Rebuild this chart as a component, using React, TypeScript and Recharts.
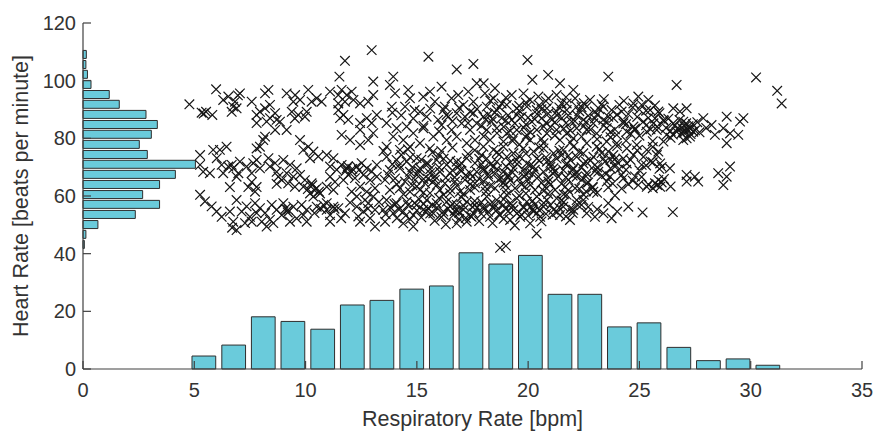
import { ScatterChart, Scatter, XAxis, YAxis, ReferenceArea, Label } from "recharts";

document.body.style.margin = "0";

const xTicks = [0, 5, 10, 15, 20, 25, 30, 35];
const yTicks = [0, 20, 40, 60, 80, 100, 120];

// respiratory rate histogram along the bottom
const rrBinCenters = [5.43, 6.77, 8.1, 9.43, 10.77, 12.1, 13.43, 14.77, 16.1, 17.43, 18.77, 20.1, 21.43, 22.77, 24.1, 25.43, 26.77, 28.1, 29.43, 30.77];
const rrCounts = [4.5, 8.3, 18.1, 16.5, 13.8, 22.2, 23.8, 27.7, 28.8, 40.3, 36.4, 39.4, 25.9, 25.9, 14.6, 16.0, 7.5, 2.9, 3.5, 1.3];
const rrBinWidth = 1.333;

// heart rate histogram along the left side
const hrBinCenters = [109.1, 105.6, 102.2, 98.7, 95.2, 91.8, 88.3, 84.8, 81.4, 77.9, 74.4, 71.0, 67.5, 64.0, 60.5, 57.1, 53.6, 50.1, 46.7, 43.2];
const hrCounts = [0.15, 0.13, 0.2, 0.36, 1.18, 1.63, 2.83, 3.34, 3.07, 2.53, 2.89, 5.05, 4.15, 3.44, 2.68, 3.44, 2.35, 0.67, 0.13, 0.06];
const hrBinWidth = 3.47;

// scatter points [respiratory rate, heart rate]
const outlierPoints = [
  [12.97, 110.6], [11.77, 106.9], [11.52, 101.4], [13.04, 99.7], [15.52, 108.3], [16.79, 103.9], [17.54, 105.8],
  [19.97, 107.2], [20.9, 102.0], [20.19, 100.3], [21.43, 99.1], [22.03, 96.8], [18.51, 97.4], [18.0, 99.1],
  [23.6, 101.4], [26.67, 98.5], [30.24, 101.1], [31.19, 96.5], [31.39, 92.1], [13.94, 101.4],
  [20.38, 47.0], [18.74, 42.0], [19.0, 42.7], [25.14, 54.3], [26.5, 54.4], [6.7, 49.0],
];

const highBandPoints = [
  [4.78, 91.8], [5.33, 88.9], [5.53, 89.2], [5.81, 88.1], [5.42, 88.6], [5.98, 97.0], [6.3, 93.3], [6.53, 94.5],
  [6.83, 92.7], [7.05, 95.6], [6.96, 94.9], [6.75, 91.0], [6.9, 90.4], [6.68, 89.2], [7.58, 92.7], [7.95, 89.2],
  [7.8, 88.1], [8.18, 90.4], [8.33, 96.8], [8.18, 95.6], [8.4, 91.6], [8.63, 88.7], [8.4, 87.0], [8.7, 86.4],
  [7.8, 85.3], [8.25, 85.8], [8.63, 82.9],
  [9.15, 95.6], [9.53, 95.0], [9.45, 92.7], [9.75, 93.3], [10.12, 96.8], [10.5, 93.9], [10.27, 92.7], [10.72, 92.7],
  [11.1, 96.2], [11.47, 95.0], [11.62, 96.8], [11.85, 95.0], [12.07, 96.2], [11.47, 92.1], [11.77, 92.7], [12.15, 93.3],
  [12.45, 92.1], [12.82, 92.7], [13.04, 95.0], [9.38, 89.2], [9.67, 88.1], [9.52, 86.9], [9.97, 87.5], [10.05, 89.2],
  [11.47, 89.8], [11.7, 88.1], [11.92, 86.4], [11.55, 87.0], [12.45, 85.3], [12.75, 87.0], [12.97, 85.3], [13.2, 88.1],
  [9.15, 82.9], [8.85, 85.8],
  [13.79, 98.5], [14.02, 95.6], [13.87, 91.0], [14.61, 96.8], [14.69, 93.9], [14.47, 91.0], [15.29, 94.4], [15.59, 96.2],
  [16.11, 97.9], [15.81, 92.7], [16.26, 91.0], [16.56, 93.9], [16.86, 95.0], [17.31, 96.2], [17.69, 99.1], [17.54, 92.7],
  [17.09, 91.6], [15.14, 89.2], [14.84, 86.9], [15.44, 87.5], [15.96, 86.4], [16.34, 88.1], [16.79, 88.7], [17.16, 87.5],
  [17.54, 88.7], [13.64, 85.3], [14.09, 83.5], [14.54, 84.1],
  [18.06, 95.6], [18.44, 93.9], [18.81, 92.1], [19.26, 95.0], [19.79, 95.6], [20.09, 93.3], [20.46, 94.5], [20.91, 93.9],
  [21.28, 95.0], [21.73, 92.1], [22.11, 93.9], [18.14, 91.0], [18.59, 89.8], [19.04, 91.6], [19.49, 90.4], [19.94, 91.0],
  [20.39, 89.8], [20.84, 90.4], [21.28, 89.3], [21.73, 89.8], [22.18, 91.0], [17.99, 87.5], [18.36, 85.8], [18.81, 87.0],
  [19.26, 86.4], [19.71, 87.5], [20.16, 85.8], [20.61, 87.0], [21.06, 86.4], [21.51, 87.0], [21.96, 85.8], [18.14, 82.9],
  [18.59, 83.5], [19.04, 81.7], [19.49, 82.9], [19.94, 81.2], [20.39, 82.9], [20.84, 81.7], [21.28, 82.9], [21.73, 81.7],
  [22.18, 83.5],
  [22.78, 93.3], [22.63, 91.0], [23.0, 89.3], [23.38, 91.0], [23.75, 89.8], [24.2, 89.3], [24.95, 94.5], [24.73, 92.1],
  [25.1, 91.6], [25.48, 89.8], [25.85, 89.3], [26.52, 90.4], [26.82, 89.3], [22.48, 86.4], [22.93, 85.2], [23.38, 86.4],
  [23.83, 87.0], [24.28, 85.2], [24.73, 84.1], [25.18, 85.8], [25.63, 85.2], [26.08, 86.4], [26.52, 85.2], [22.63, 82.9],
  [23.08, 81.7], [23.53, 83.5], [23.98, 81.2], [24.43, 82.3], [24.8, 82.9], [25.33, 82.3], [25.78, 82.9], [26.22, 81.2],
  [26.67, 82.3],
  [27.12, 90.4], [26.97, 85.8], [27.04, 84.1], [27.19, 82.9], [26.89, 81.7], [27.12, 80.0], [27.42, 82.3], [26.97, 79.4],
  [27.27, 80.6], [27.87, 87.0], [28.24, 84.6], [28.39, 81.2], [28.77, 83.5], [28.92, 87.5], [29.07, 81.7], [28.92, 78.3],
  [29.44, 81.2], [29.52, 85.8], [29.67, 87.0],
  // denser core of the upper band
  [17.7, 90.2], [18.2, 88.3], [18.7, 90.9], [19.1, 88.0], [19.6, 89.6], [20.0, 87.2], [20.5, 91.5], [20.9, 88.6],
  [21.4, 90.7], [21.8, 88.0], [22.3, 89.4], [22.7, 87.8], [23.2, 90.1], [23.6, 87.5], [24.1, 91.6], [24.5, 88.4],
  [25.0, 90.0], [25.4, 87.1], [25.9, 88.7], [26.3, 86.8], [17.9, 84.3], [18.4, 86.8], [18.9, 84.0], [19.4, 85.2],
  [19.8, 83.7], [20.3, 86.7], [20.7, 84.1], [21.2, 85.6], [21.6, 83.4], [22.1, 86.0], [22.5, 84.3], [23.0, 86.9],
  [23.4, 84.4], [23.9, 83.1], [24.3, 86.0], [24.8, 83.4], [25.3, 84.5], [25.7, 86.9], [26.2, 83.6], [26.6, 84.5],
  [27.0, 83.0], [27.4, 84.9], [27.7, 82.1], [18.0, 80.7], [18.6, 81.8], [19.3, 79.1], [19.9, 80.4], [20.6, 79.8],
  [21.2, 81.0], [21.9, 78.6], [22.4, 80.6], [23.1, 79.7], [23.7, 80.4], [24.4, 79.2], [25.0, 80.9], [25.6, 79.0],
  [26.4, 80.2], [27.3, 81.5], [18.3, 93.1], [19.0, 94.1], [19.9, 92.4], [20.8, 92.9], [21.7, 94.3], [22.5, 92.2],
  [23.4, 93.6], [24.3, 93.0], [25.4, 93.3], [16.2, 89.9], [16.9, 90.6], [17.3, 85.3], [16.6, 85.9], [15.6, 90.3],
  [14.9, 89.8], [14.3, 88.0], [13.9, 88.9], [15.3, 84.3], [16.0, 82.4], [26.8, 86.4], [27.1, 85.2], [26.9, 83.7],
  [27.3, 83.2], [27.0, 82.0], [27.6, 85.6], [28.0, 83.6], [26.5, 81.3],
  [18.5, 88.9], [19.0, 86.2], [19.5, 88.1], [19.9, 84.8], [20.4, 88.4], [20.8, 85.4], [21.3, 88.0], [21.7, 85.3],
  [22.2, 87.9], [22.6, 85.7], [23.1, 88.3], [23.5, 85.8], [24.0, 88.2], [24.4, 84.9], [24.9, 87.4], [25.3, 89.6],
  [25.8, 84.1], [26.1, 86.0], [19.2, 82.6], [20.1, 82.1], [21.0, 83.9], [21.9, 82.7], [22.8, 83.0], [23.7, 82.2],
  [24.6, 81.6], [25.5, 83.1], [26.4, 82.5], [27.2, 84.2], [27.5, 82.8], [26.7, 83.3], [19.6, 91.3], [20.6, 90.1],
  [21.5, 92.1], [22.4, 90.8], [23.3, 91.8], [24.7, 90.7], [25.7, 91.4], [18.1, 86.5], [17.4, 89.2], [16.4, 87.4],
];

const midBandPoints = [
  [8.18, 80.6], [8.1, 79.4], [7.95, 77.1], [7.8, 76.5],
  [5.26, 74.2], [5.26, 70.8], [5.85, 76.0], [6.15, 76.0], [6.45, 77.1], [6.01, 73.1], [6.23, 70.8], [6.53, 70.2],
  [6.75, 69.6], [6.68, 70.8], [7.05, 71.9], [5.4, 68.4], [5.7, 67.9], [6.3, 67.9], [6.98, 67.9], [7.35, 70.2],
  [7.65, 71.4], [7.58, 67.9], [7.95, 69.6], [7.8, 72.5], [8.33, 73.1], [8.63, 71.4], [8.4, 70.2], [8.7, 68.4],
  [8.78, 66.7], [7.58, 64.8], [7.8, 63.1], [7.43, 63.1], [6.9, 66.7], [6.6, 63.1], [7.73, 61.5], [8.7, 64.2],
  [11.62, 81.2], [12.0, 79.4], [12.45, 77.7], [12.82, 79.4], [13.04, 81.8], [12.45, 82.9], [9.75, 79.4], [10.12, 77.1],
  [9.9, 76.0], [10.35, 75.4], [10.57, 73.7], [10.2, 73.1],
  [9.0, 72.5], [9.3, 70.8], [9.6, 69.6], [9.15, 67.9], [9.45, 66.7], [9.75, 67.3], [9.97, 65.5], [10.27, 64.4],
  [10.5, 62.7], [10.2, 60.9], [9.9, 63.2], [9.52, 63.2], [9.22, 64.4], [8.93, 65.5], [10.65, 60.9], [10.35, 59.8],
  [10.95, 74.2], [11.25, 73.1], [11.1, 70.2], [11.4, 69.1], [11.62, 70.8], [11.85, 69.6], [12.07, 68.5], [12.3, 70.2],
  [12.52, 71.4], [12.75, 69.6], [12.97, 68.5], [13.2, 70.8], [11.92, 67.3], [12.22, 66.2], [12.6, 67.3], [12.9, 65.5],
  [13.2, 66.7], [11.7, 65.5], [11.32, 64.9], [11.1, 66.7], [10.95, 63.2], [11.25, 62.1], [12.45, 63.2], [12.75, 61.5],
  [13.12, 62.7], [12.3, 59.8], [12.67, 58.6], [13.04, 59.8], [12.07, 61.5],
  [10.4, 62.0], [10.6, 61.5], [10.1, 62.4], [10.3, 63.7], [11.8, 68.7], [12.1, 69.4], [12.4, 69.0], [11.9, 70.3],
  [13.94, 80.6], [14.39, 79.4], [14.84, 81.8], [15.29, 83.5], [15.74, 80.6], [16.11, 84.6], [16.56, 82.9], [17.01, 85.2],
  [17.39, 82.9], [17.69, 85.2], [13.64, 77.1], [14.24, 76.0], [14.69, 77.1], [15.14, 78.3], [15.59, 76.5], [16.34, 79.4],
  [16.79, 80.6], [17.24, 78.3], [17.61, 79.4],
  [13.64, 73.6], [14.09, 72.5], [14.54, 71.9], [14.99, 73.1], [15.44, 71.4], [15.89, 72.5], [16.34, 70.8], [16.79, 71.9],
  [17.24, 73.1], [17.61, 71.4], [13.79, 69.0], [14.24, 69.6], [14.69, 68.4], [15.14, 69.6], [15.59, 67.9], [16.04, 68.4],
  [16.49, 67.9], [16.94, 69.0], [17.39, 67.9], [17.69, 68.4], [13.57, 65.6], [14.02, 66.1], [14.47, 65.0], [14.92, 65.6],
  [15.37, 64.4], [15.81, 65.6], [16.26, 64.4], [16.71, 65.0], [17.16, 65.6], [17.61, 64.4], [13.79, 62.1], [14.24, 62.7],
  [14.69, 61.5], [15.14, 62.1], [15.59, 61.0], [16.04, 62.1], [16.49, 61.0], [16.94, 61.5], [17.39, 62.1],
  [18.29, 79.4], [18.89, 78.9], [19.34, 80.0], [20.09, 79.4], [20.69, 78.3], [21.43, 79.4], [22.03, 80.0],
  [17.99, 77.1], [18.44, 76.0], [18.89, 77.1], [19.34, 74.8], [19.79, 76.5], [20.24, 75.4], [20.69, 76.5], [21.14, 74.8],
  [21.58, 76.0], [22.03, 77.1], [18.14, 73.0], [18.59, 71.9], [19.04, 73.6], [19.49, 72.5], [19.94, 71.3], [20.39, 73.0],
  [20.84, 71.9], [21.28, 73.0], [21.73, 71.3], [22.18, 73.6], [17.99, 69.6], [18.44, 70.2], [18.89, 68.4], [19.34, 69.6],
  [19.79, 69.0], [20.24, 70.2], [20.69, 68.4], [21.14, 69.6], [21.58, 69.0], [22.03, 69.6], [18.21, 66.7], [18.66, 65.6],
  [19.11, 67.3], [19.56, 66.1], [20.01, 65.6], [20.46, 66.7], [20.91, 65.0], [21.36, 66.7], [21.81, 65.6], [22.18, 66.7],
  [18.06, 63.2], [18.51, 62.7], [18.96, 63.8], [19.41, 62.7], [19.86, 63.2], [20.31, 62.1], [20.76, 63.2], [21.21, 62.1],
  [21.66, 63.2], [22.11, 62.7],
  [26.08, 78.9], [25.85, 75.4], [22.63, 78.3], [23.08, 77.1], [23.53, 78.9], [23.98, 78.3], [24.43, 76.5], [24.88, 77.7],
  [25.33, 76.0], [22.48, 74.8], [22.93, 73.6], [23.38, 73.0], [23.83, 74.2], [24.28, 73.0], [24.73, 74.2], [25.18, 73.6],
  [25.78, 74.2], [22.48, 71.3], [23.0, 70.8], [23.45, 71.9], [23.9, 70.2], [24.43, 71.3], [25.1, 70.8], [25.93, 71.3],
  [26.37, 69.6], [22.63, 67.9], [23.15, 68.4], [23.68, 66.7], [24.2, 67.3], [23.53, 65.0], [24.28, 66.1], [24.95, 63.8],
  [25.33, 63.2], [25.7, 64.4], [25.85, 65.6], [25.93, 63.2], [22.63, 64.4], [22.93, 61.5],
  [27.12, 67.3], [27.49, 66.7], [27.64, 65.0], [27.12, 65.0], [28.54, 67.9], [29.07, 70.2], [28.92, 66.7], [28.77, 63.8],
  // denser core of the middle band
  [13.9, 71.0], [14.3, 74.3], [14.8, 70.0], [15.2, 72.6], [15.6, 69.3], [16.0, 74.0], [16.5, 72.2], [16.9, 70.4],
  [17.3, 74.6], [17.8, 72.9], [18.3, 70.9], [18.7, 74.4], [19.2, 71.6], [19.6, 73.9], [20.1, 70.6], [20.5, 72.3],
  [21.0, 70.1], [21.5, 74.1], [21.9, 72.4], [22.4, 70.0], [22.8, 72.3], [23.3, 74.9], [23.7, 72.6], [24.1, 69.4],
  [24.6, 72.5], [25.0, 68.9], [25.5, 72.0], [26.0, 70.1], [13.7, 67.4], [14.1, 64.1], [14.6, 66.8], [15.0, 63.3],
  [15.5, 66.0], [15.9, 63.9], [16.3, 66.3], [16.8, 63.6], [17.2, 67.2], [17.6, 62.9], [18.0, 65.1], [18.5, 67.8],
  [18.9, 64.7], [19.3, 68.2], [19.7, 64.0], [20.2, 67.6], [20.6, 64.6], [21.1, 67.9], [21.5, 64.2], [22.0, 67.1],
  [22.4, 65.6], [22.9, 63.2], [23.3, 66.9], [23.8, 64.3], [24.2, 62.6], [24.7, 65.3], [25.1, 66.6], [25.6, 62.7],
  [26.0, 64.7], [26.4, 63.3], [14.4, 60.6], [15.3, 61.2], [16.2, 60.4], [17.1, 60.8], [18.1, 61.5], [19.0, 62.0],
  [19.9, 60.9], [20.7, 61.7], [21.6, 60.6], [22.3, 62.5], [23.1, 61.1], [23.9, 60.2], [13.5, 75.6], [14.6, 76.2],
  [15.7, 75.1], [16.6, 76.8], [17.6, 75.9], [18.6, 75.2], [19.6, 77.8], [20.5, 76.9], [21.4, 75.7], [22.3, 75.4],
  [23.2, 76.3], [24.0, 77.3], [24.9, 75.8], [25.6, 77.0], [16.0, 69.9], [17.0, 68.7], [18.0, 68.9], [19.0, 70.3],
  [20.0, 68.2], [21.0, 71.5], [22.0, 69.0], [23.0, 68.6], [24.0, 71.7], [15.0, 67.3], [16.7, 66.5], [18.8, 66.3],
  [20.9, 66.2], [22.6, 66.8], [25.3, 70.6], [25.6, 71.7], [25.9, 69.4], [25.4, 64.0], [25.8, 63.8], [26.1, 65.9],
  [22.6, 61.6], [22.9, 62.9], [22.5, 60.4],
  [14.2, 70.7], [14.7, 73.4], [15.1, 68.7], [15.5, 71.2], [15.8, 66.9], [16.2, 72.9], [16.6, 68.9], [17.0, 71.4],
  [17.5, 66.7], [17.9, 71.0], [18.2, 67.6], [18.6, 69.4], [19.1, 66.6], [19.5, 71.1], [19.9, 67.4], [20.3, 69.1],
  [20.8, 73.4], [21.2, 68.4], [21.7, 70.8], [22.2, 68.1], [22.6, 71.9], [23.1, 69.9], [23.5, 67.6], [23.9, 72.8],
  [24.4, 69.1], [24.8, 66.8], [14.8, 63.7], [15.7, 64.8], [16.5, 62.4], [17.4, 64.1], [18.3, 63.6], [19.2, 65.4],
  [20.1, 63.9], [21.0, 64.0], [21.8, 62.0], [22.7, 64.7], [23.6, 63.0], [24.5, 64.1], [16.1, 75.6], [17.9, 74.2],
  [19.9, 74.7], [21.8, 73.9], [23.6, 75.4], [15.3, 65.9], [17.8, 65.9], [19.8, 66.9], [21.7, 66.5], [23.7, 69.6],
];

const lowBandPoints = [
  [5.26, 60.4], [5.48, 58.1], [5.78, 56.4], [6.0, 54.6], [6.23, 52.8], [6.6, 54.6], [6.9, 58.6], [6.75, 51.1],
  [6.9, 48.2], [7.13, 54.6], [7.35, 56.4], [7.5, 52.8], [7.73, 57.5], [7.95, 55.8], [8.18, 54.1], [8.4, 51.8],
  [8.7, 55.2], [8.03, 51.1], [8.25, 49.4], [8.55, 50.6], [7.58, 51.1], [7.28, 50.6], [7.8, 54.1], [8.48, 56.9],
  [9.0, 57.5], [9.22, 55.2], [8.93, 53.4], [9.45, 56.3], [9.82, 56.9], [10.05, 55.2], [9.9, 53.4], [9.3, 51.1],
  [10.05, 51.1], [10.5, 56.3], [10.8, 56.9], [10.95, 55.2], [11.25, 56.3], [11.1, 53.4], [11.47, 55.8], [11.77, 54.0],
  [11.1, 51.1], [10.95, 57.5], [12.3, 56.3], [12.6, 54.6], [12.82, 57.5], [13.12, 55.2], [12.37, 52.9], [12.45, 51.1],
  [12.9, 52.3], [13.12, 49.4], [9.1, 55.6], [9.2, 54.3], [10.7, 55.5], [11.3, 55.6],
  [13.64, 58.6], [14.09, 57.5], [14.54, 58.0], [14.99, 56.9], [15.44, 58.6], [15.89, 57.5], [16.34, 58.0], [16.79, 56.9],
  [17.24, 58.0], [17.61, 56.9], [13.49, 55.2], [13.94, 54.0], [14.39, 54.6], [14.84, 53.4], [15.29, 55.2], [15.74, 54.0],
  [16.19, 54.6], [16.64, 53.4], [17.09, 55.2], [17.54, 54.0], [13.57, 51.1], [14.39, 50.5], [14.84, 49.4], [16.79, 50.5],
  [17.24, 51.1], [17.46, 52.8],
  [18.14, 59.8], [18.59, 58.6], [19.04, 60.4], [19.49, 59.2], [19.94, 58.0], [20.39, 59.8], [20.84, 58.6], [21.28, 59.2],
  [21.73, 60.4], [22.18, 58.6], [17.99, 56.3], [18.44, 55.7], [18.89, 56.9], [19.34, 55.2], [19.79, 56.3], [20.24, 54.6],
  [20.69, 56.3], [21.14, 55.2], [21.58, 56.3], [22.03, 55.2], [18.29, 52.8], [18.74, 53.4], [19.19, 51.7], [19.64, 52.8],
  [20.09, 50.5], [20.54, 52.8], [21.43, 53.4], [21.88, 51.7],
  [22.48, 58.6], [22.63, 54.0], [23.0, 52.8], [23.38, 54.0], [23.75, 52.3],
  // denser core of the lower band
  [13.8, 56.1], [14.2, 55.3], [14.6, 56.8], [15.0, 55.0], [15.3, 57.2], [15.6, 53.9], [15.9, 56.0], [16.1, 52.7],
  [16.4, 55.6], [16.6, 57.3], [16.9, 54.2], [17.1, 56.6], [17.4, 53.1], [17.7, 55.9], [17.9, 57.8], [18.2, 54.5],
  [18.5, 56.9], [18.7, 53.6], [19.0, 55.5], [19.2, 57.6], [19.5, 54.0], [19.8, 55.9], [20.0, 53.2], [20.3, 57.0],
  [20.5, 55.1], [20.8, 53.8], [21.0, 56.8], [21.3, 54.4], [21.6, 57.9], [21.9, 55.6], [14.1, 52.3], [14.7, 51.9],
  [15.2, 52.6], [15.8, 51.4], [16.3, 50.2], [16.9, 52.0], [17.8, 51.3], [18.4, 50.6], [19.4, 49.8], [20.6, 51.2],
  [15.1, 58.9], [16.0, 59.3], [17.0, 59.6], [17.6, 58.3], [18.9, 58.9], [19.6, 60.1], [20.2, 58.3], [20.9, 60.7],
  [21.5, 58.4], [22.2, 57.1], [22.7, 56.2], [23.1, 55.4], [23.6, 57.5], [24.0, 54.6], [24.5, 56.3], [13.3, 57.9],
  [12.8, 55.6], [12.0, 57.7], [11.6, 52.3], [10.4, 54.1], [9.6, 52.2],
  [14.5, 53.2], [14.9, 57.6], [15.4, 54.6], [15.7, 56.9], [16.2, 53.5], [16.5, 56.4], [16.8, 55.1], [17.2, 52.4],
  [17.5, 56.2], [17.9, 53.8], [18.3, 57.2], [18.6, 55.2], [18.9, 52.1], [19.3, 56.5], [19.7, 53.5], [20.1, 56.2],
  [20.4, 54.1], [20.7, 57.6], [21.1, 53.5], [21.4, 55.9], [15.5, 55.8], [16.7, 54.8], [18.0, 55.5], [19.1, 54.7],
  [20.2, 55.3], [14.0, 57.2], [13.6, 53.7], [22.0, 54.1], [22.4, 56.9], [21.7, 52.9],
];

const scatterData = [...highBandPoints, ...midBandPoints, ...lowBandPoints, ...outlierPoints].map(([x, y]) => ({ x, y }));

const AXIS = "#404040";
const TEXT = "#333333";
const FONT = "'Liberation Sans', Arial, Helvetica, sans-serif";
const BAR_FILL = "#6acbdb";
const BAR_EDGE = "#2e2e2e";

const Cross = (props: any) => {
  const { cx, cy } = props;
  if (cx == null || cy == null) return null;
  const r = 4.8;
  return (
    <path
      d={`M${cx - r},${cy - r}L${cx + r},${cy + r}M${cx - r},${cy + r}L${cx + r},${cy - r}`}
      stroke="#161616"
      strokeWidth={1.2}
      fill="none"
    />
  );
};

export default function App() {
  return (
    <div style={{ width: 876, height: 432, background: "#fff" }}>
      <ScatterChart width={876} height={432} margin={{ top: 23, right: 14, bottom: 23, left: 13 }}>
        <XAxis
          type="number"
          dataKey="x"
          domain={[0, 35]}
          ticks={xTicks}
          height={40}
          tickSize={-8}
          tickMargin={22}
          axisLine={{ stroke: AXIS, strokeWidth: 1.2 }}
          tickLine={{ stroke: AXIS, strokeWidth: 1.2 }}
          tick={{ fill: TEXT, fontSize: 20, fontFamily: FONT }}
        >
          <Label
            content={({ viewBox }: any) => (
              <text
                x={viewBox.x + viewBox.width / 2}
                y={426}
                textAnchor="middle"
                fill={TEXT}
                fontSize={21.5}
                fontFamily={FONT}
              >
                Respiratory Rate [bpm]
              </text>
            )}
          />
        </XAxis>
        <YAxis
          type="number"
          dataKey="y"
          domain={[0, 120]}
          ticks={yTicks}
          width={70}
          tickSize={-8}
          tickMargin={15}
          axisLine={{ stroke: AXIS, strokeWidth: 1.2 }}
          tickLine={{ stroke: AXIS, strokeWidth: 1.2 }}
          tick={{ fill: TEXT, fontSize: 20, fontFamily: FONT }}
        >
          <Label
            content={({ viewBox }: any) => {
              const cx = 28;
              const cy = viewBox.y + viewBox.height / 2;
              return (
                <text
                  x={cx}
                  y={cy}
                  transform={`rotate(-90 ${cx} ${cy})`}
                  textAnchor="middle"
                  fill={TEXT}
                  fontSize={21.5}
                  fontFamily={FONT}
                >
                  Heart Rate [beats per minute]
                </text>
              );
            }}
          />
        </YAxis>
        {rrBinCenters.map((c, i) => (
          <ReferenceArea
            key={`rr-${i}`}
            x1={c - rrBinWidth * 0.4}
            x2={c + rrBinWidth * 0.4}
            y1={0}
            y2={rrCounts[i]}
            fill={BAR_FILL}
            fillOpacity={1}
            stroke={BAR_EDGE}
            strokeWidth={1}
          />
        ))}
        {hrBinCenters.map((c, i) => (
          <ReferenceArea
            key={`hr-${i}`}
            x1={0}
            x2={hrCounts[i]}
            y1={c - hrBinWidth * 0.4}
            y2={c + hrBinWidth * 0.4}
            fill={BAR_FILL}
            fillOpacity={1}
            stroke={BAR_EDGE}
            strokeWidth={1}
          />
        ))}
        <Scatter data={scatterData} shape={Cross} isAnimationActive={false} />
      </ScatterChart>
    </div>
  );
}
